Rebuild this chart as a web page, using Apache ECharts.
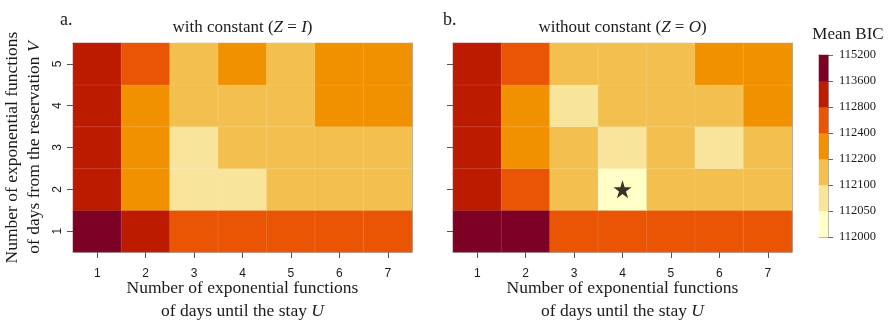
<!DOCTYPE html>
<html>
<head>
<meta charset="utf-8">
<script src="https://cdn.jsdelivr.net/npm/echarts@6/dist/echarts.min.js"></script>
<style>
  html, body { margin: 0; padding: 0; background: #fff; }
  #main { width: 889px; height: 320px; }
</style>
</head>
<body>
<div id="main"></div>
<script>
// U on x, V on y (rows listed from V=1 upward)
var uCats = ['1', '2', '3', '4', '5', '6', '7'];
var vCats = ['1', '2', '3', '4', '5'];

// mean BIC, with constant (Z = I)
var withConst = [
    [114300, 113100, 112600, 112550, 112520, 112500, 112480],
    [113000, 112250, 112080, 112090, 112130, 112140, 112150],
    [112950, 112240, 112070, 112120, 112130, 112150, 112160],
    [112980, 112260, 112140, 112150, 112160, 112220, 112240],
    [113050, 112450, 112170, 112210, 112180, 112230, 112250]
];

// mean BIC, without constant (Z = O)
var noConst = [
    [114400, 114100, 112520, 112480, 112460, 112450, 112440],
    [112900, 112420, 112110, 112030, 112110, 112120, 112130],
    [112870, 112230, 112110, 112090, 112120, 112080, 112130],
    [112890, 112250, 112070, 112110, 112120, 112140, 112220],
    [112950, 112430, 112130, 112140, 112150, 112210, 112230]
];

// best model (star)
var bestU = '4', bestV = '2';

// colour classes
var breaks = [112000, 112050, 112100, 112200, 112400, 112800, 113600, 115200];
var classColors = ['#FFFFC8', '#F9E49C', '#F3C050', '#F29100', '#E95504', '#BC1B00', '#7D0025'];

var serif = '"Liberation Serif", "DejaVu Serif", serif';
var sans = '"Liberation Sans", "DejaVu Sans", sans-serif';
var frameColor = '#a5a5a5';
var ink = '#1a1a1a';

function toCells(rows){
    var out = [];
    for (var v = 0; v < rows.length; v++) {
        for (var u = 0; u < rows[v].length; u++) {
            out.push([u, v, rows[v][u]]);
        }
    }
    return out;
}

var pieces = [], classCats = [], barData = [];
for (var i = 0; i < classColors.length; i++) {
    pieces.push({ gte: breaks[i], lt: breaks[i + 1], color: classColors[i] });
    classCats.push('k' + i);
    barData.push([0, i, (breaks[i] + breaks[i + 1]) / 2]);
}

var starPath = 'path://M50,0 L61.8,35.1 L98.9,35.1 L68.9,56.9 L80.3,92.1 L50,70.4 L19.7,92.1 L31.1,56.9 L1.1,35.1 L38.2,35.1 Z';

/*********** axes helpers ***********/
function frameX(grid, pos){
    return {
        type: 'category', gridIndex: grid, position: pos, data: uCats,
        axisLine: { show: true, lineStyle: { color: frameColor, width: 1 } },
        axisTick: { show: false }, axisLabel: { show: false }, splitLine: { show: false }
    };
}
function frameY(grid, pos, cats){
    return {
        type: 'category', gridIndex: grid, position: pos, data: cats,
        axisLine: { show: true, lineStyle: { color: frameColor, width: 1 } },
        axisTick: { show: false }, axisLabel: { show: false }, splitLine: { show: false }
    };
}
function uAxis(grid){
    return {
        type: 'category', gridIndex: grid, position: 'bottom', data: uCats,
        axisLine: { show: true, lineStyle: { color: frameColor, width: 1 } },
        axisTick: { show: true, alignWithLabel: true, length: 6, lineStyle: { color: '#555' } },
        axisLabel: { show: true, margin: 16, color: ink, fontFamily: sans, fontSize: 12 },
        name: 'Number of exponential functions\nof days until the stay {i|U}',
        nameLocation: 'middle', nameGap: 25, nameMoveOverlap: false,
        nameTextStyle: {
            color: ink, fontFamily: serif, fontSize: 17.5, lineHeight: 23,
            rich: { i: { fontStyle: 'italic', fontFamily: serif, fontSize: 17.5, color: ink } }
        }
    };
}

var option = {
    backgroundColor: '#fff',
    animation: false,
    grid: [
        { left: 73, top: 43, width: 339, height: 209, outerBoundsMode: 'none', containLabel: false },
        { left: 453, top: 43, width: 339, height: 209, outerBoundsMode: 'none', containLabel: false },
        { left: 819, top: 55, width: 9, height: 182, outerBoundsMode: 'none', containLabel: false }
    ],
    xAxis: [
        uAxis(0),
        uAxis(1),
        frameX(0, 'top'),
        frameX(1, 'top'),
        { type: 'category', gridIndex: 2, data: ['c'], position: 'bottom',
          axisLine: { lineStyle: { color: frameColor } }, axisTick: { show: false }, axisLabel: { show: false } },
        { type: 'category', gridIndex: 2, data: ['c'], position: 'top',
          axisLine: { lineStyle: { color: frameColor } }, axisTick: { show: false }, axisLabel: { show: false } }
    ],
    yAxis: [
        {
            type: 'category', gridIndex: 0, position: 'left', data: vCats,
            axisLine: { show: true, lineStyle: { color: frameColor, width: 1 } },
            axisTick: { show: true, alignWithLabel: true, length: 6, lineStyle: { color: '#555' } },
            axisLabel: { show: true, rotate: 90, margin: 9, color: ink, fontFamily: sans, fontSize: 12 },
            name: 'Number of exponential functions\nof days from the reservation {i|V}',
            nameLocation: 'middle', nameGap: 28, nameRotate: 90, nameMoveOverlap: false,
            nameTextStyle: {
                color: ink, fontFamily: serif, fontSize: 17.5, lineHeight: 22,
                rich: { i: { fontStyle: 'italic', fontFamily: serif, fontSize: 17.5, color: ink } }
            }
        },
        {
            type: 'category', gridIndex: 1, position: 'left', data: vCats,
            axisLine: { show: true, lineStyle: { color: frameColor, width: 1 } },
            axisTick: { show: true, alignWithLabel: true, length: 6, lineStyle: { color: '#555' } },
            axisLabel: { show: false }
        },
        frameY(0, 'right', vCats),
        frameY(1, 'right', vCats),
        frameY(2, 'left', classCats),
        {
            type: 'value', gridIndex: 2, position: 'right', min: 0, max: classColors.length, interval: 1,
            axisLine: { show: true, lineStyle: { color: frameColor } },
            axisTick: { show: true, length: 5, lineStyle: { color: '#666' } },
            axisLabel: {
                show: true, margin: 11, color: ink, fontFamily: serif, fontSize: 12.5,
                formatter: function(v){ return breaks[v]; }
            },
            splitLine: { show: false }
        }
    ],
    visualMap: {
        type: 'piecewise', show: false, dimension: 2,
        seriesIndex: [0, 1, 2], pieces: pieces
    },
    graphic: [
        { type: 'text', x: 60, y: 11, style: { text: 'a.', fontFamily: serif, fontSize: 18, fill: ink } },
        { type: 'text', x: 443, y: 11, style: { text: 'b.', fontFamily: serif, fontSize: 18, fill: ink } },
        { type: 'text', x: 242.5, y: 19, style: {
            text: '{n|with constant (}{i|Z}{n| = }{i|I}{n|)}', align: 'center',
            rich: {
                n: { fontFamily: serif, fontSize: 17, fill: ink },
                i: { fontFamily: serif, fontSize: 17, fontStyle: 'italic', fill: ink }
            }
        } },
        { type: 'text', x: 622.5, y: 19, style: {
            text: '{n|without constant (}{i|Z}{n| = }{i|O}{n|)}', align: 'center',
            rich: {
                n: { fontFamily: serif, fontSize: 17, fill: ink },
                i: { fontFamily: serif, fontSize: 17, fontStyle: 'italic', fill: ink }
            }
        } },
        { type: 'text', x: 848, y: 26, style: {
            text: 'Mean BIC', align: 'center', fontFamily: serif, fontSize: 17, fill: ink
        } }
    ],
    series: [
        {
            type: 'heatmap', xAxisIndex: 0, yAxisIndex: 0, data: toCells(withConst),
            itemStyle: { borderColor: 'rgba(255,255,255,0.18)', borderWidth: 0.6 },
            emphasis: { disabled: true }
        },
        {
            type: 'heatmap', xAxisIndex: 1, yAxisIndex: 1, data: toCells(noConst),
            itemStyle: { borderColor: 'rgba(255,255,255,0.18)', borderWidth: 0.6 },
            emphasis: { disabled: true }
        },
        {
            type: 'heatmap', xAxisIndex: 4, yAxisIndex: 4, data: barData,
            emphasis: { disabled: true }
        },
        {
            type: 'scatter', xAxisIndex: 1, yAxisIndex: 1,
            data: [[bestU, bestV]],
            symbol: starPath, symbolSize: 18,
            itemStyle: { color: '#000' }, z: 5
        }
    ]
};

var myChart = echarts.init(document.getElementById('main'));
myChart.setOption(option);
</script>
</body>
</html>
